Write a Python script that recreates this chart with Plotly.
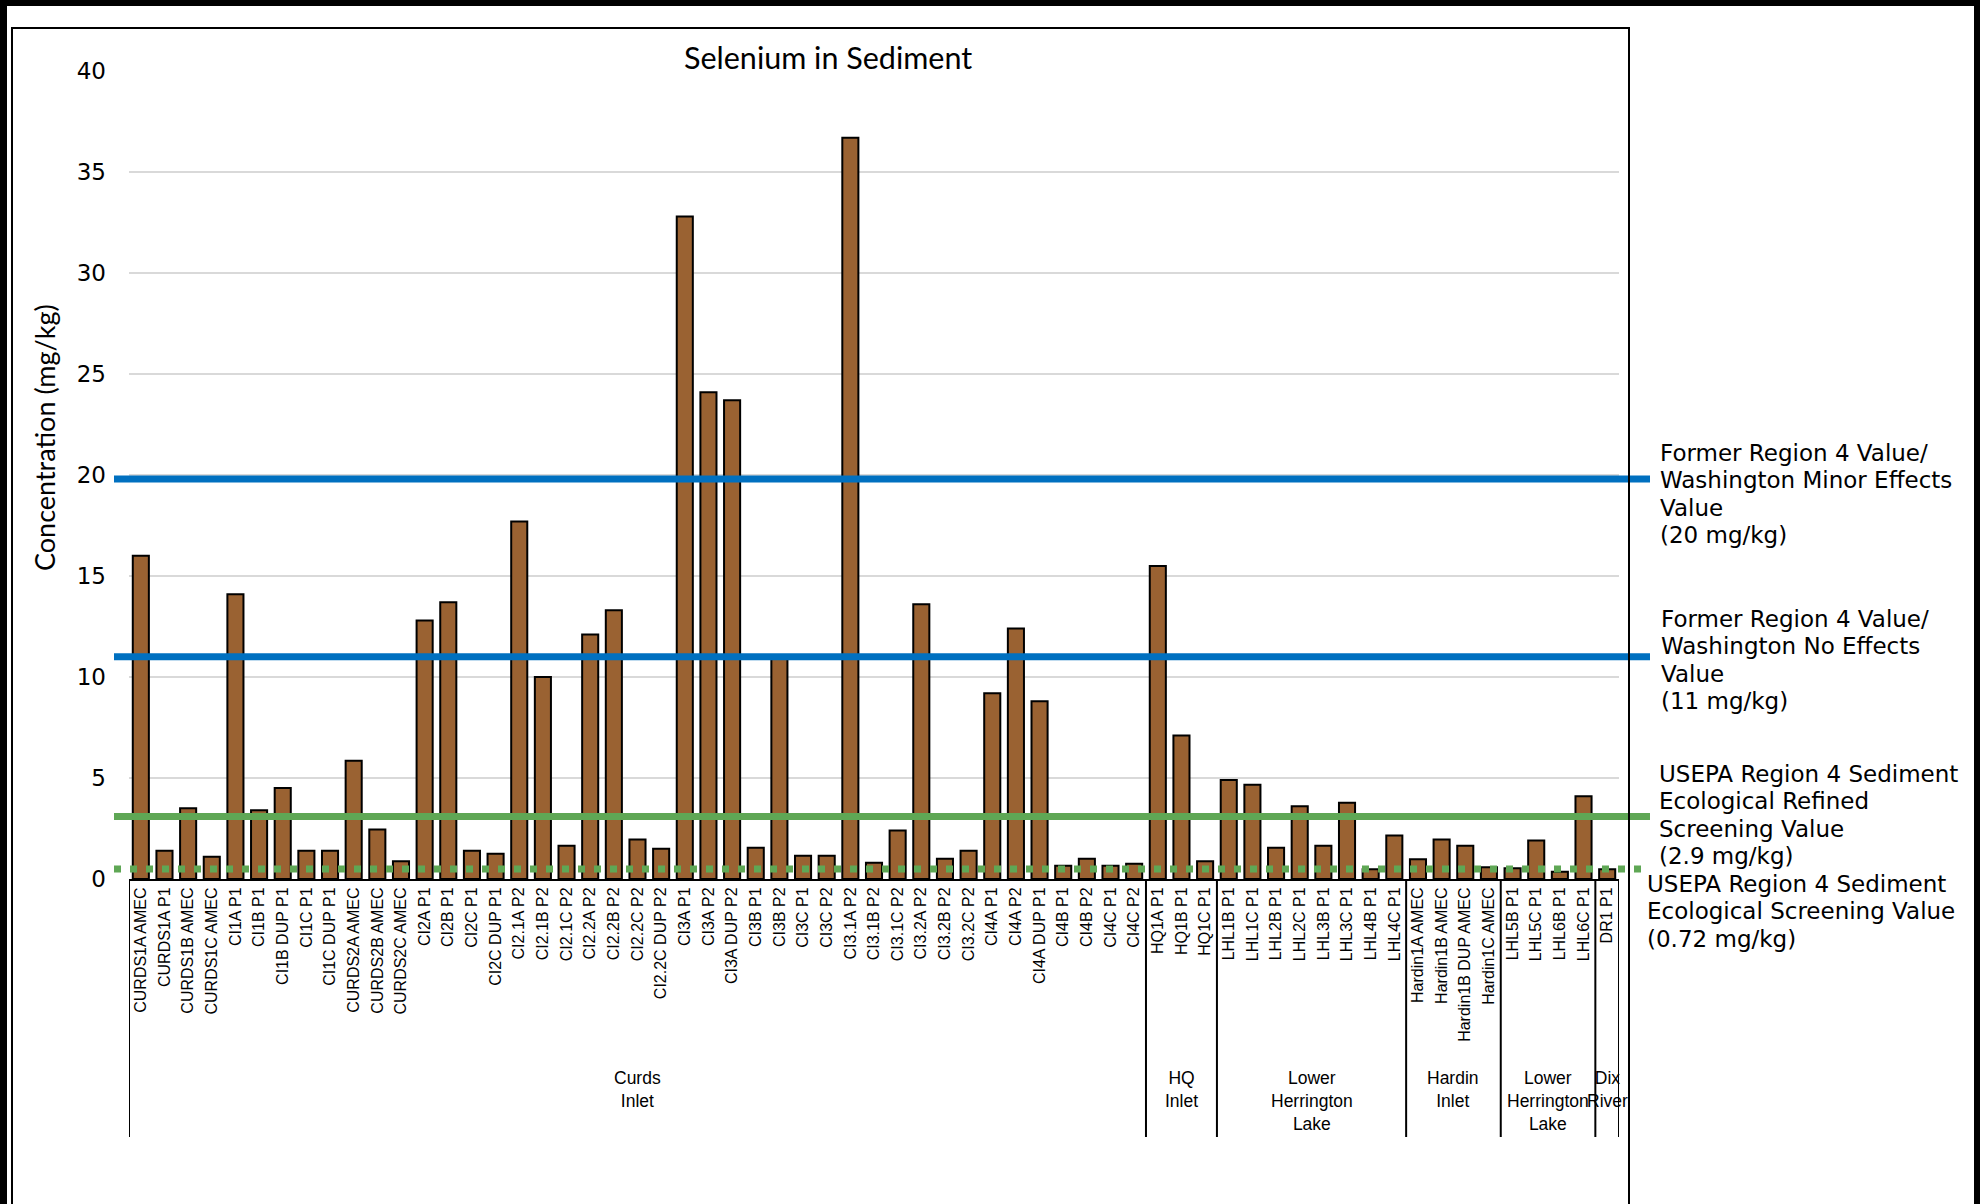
import plotly.graph_objects as go

# ---------------- data ----------------
samples = [
    "CURDS1A AMEC", "CURDS1A P1", "CURDS1B AMEC", "CURDS1C AMEC", "CI1A P1", "CI1B P1",
    "CI1B DUP P1", "CI1C P1", "CI1C DUP P1", "CURDS2A AMEC", "CURDS2B AMEC", "CURDS2C AMEC",
    "CI2A P1", "CI2B P1", "CI2C P1", "CI2C DUP P1", "CI2.1A P2", "CI2.1B P2", "CI2.1C P2",
    "CI2.2A P2", "CI2.2B P2", "CI2.2C P2", "CI2.2C DUP P2", "CI3A P1", "CI3A P2", "CI3A DUP P2",
    "CI3B P1", "CI3B P2", "CI3C P1", "CI3C P2", "CI3.1A P2", "CI3.1B P2", "CI3.1C P2",
    "CI3.2A P2", "CI3.2B P2", "CI3.2C P2", "CI4A P1", "CI4A P2", "CI4A DUP P1", "CI4B P1",
    "CI4B P2", "CI4C P1", "CI4C P2",
    "HQ1A P1", "HQ1B P1", "HQ1C P1",
    "LHL1B P1", "LHL1C P1", "LHL2B P1", "LHL2C P1", "LHL3B P1", "LHL3C P1", "LHL4B P1", "LHL4C P1",
    "Hardin1A AMEC", "Hardin1B AMEC", "Hardin1B DUP AMEC", "Hardin1C AMEC",
    "LHL5B P1", "LHL5C P1", "LHL6B P1", "LHL6C P1",
    "DR1 P1",
]
selenium = [
    16.0, 1.4, 3.5, 1.1, 14.1, 3.4,
    4.5, 1.4, 1.4, 5.85, 2.45, 0.88,
    12.8, 13.7, 1.4, 1.25, 17.7, 10.0, 1.65,
    12.1, 13.3, 1.95, 1.5, 32.8, 24.1, 23.7,
    1.55, 11.0, 1.15, 1.15, 36.7, 0.8, 2.4,
    13.6, 1.0, 1.4, 9.2, 12.4, 8.8, 0.65,
    1.0, 0.65, 0.75,
    15.5, 7.1, 0.88,
    4.9, 4.67, 1.55, 3.6, 1.65, 3.78, 0.48, 2.15,
    0.98, 1.95, 1.65, 0.58,
    0.53, 1.9, 0.36, 4.1,
    0.48,
]
group_names = ["Curds<br>Inlet", "HQ<br>Inlet", "Lower<br>Herrington<br>Lake", "Hardin<br>Inlet",
               "Lower<br>Herrington<br>Lake", "Dix<br>River"]
group_sizes = [43, 3, 8, 4, 4, 1]

threshold_labels = [
    ["Former Region 4 Value/", "Washington Minor Effects", "Value", "(20 mg/kg)"],
    ["Former Region 4 Value/", "Washington No Effects", "Value", "(11 mg/kg)"],
    ["USEPA Region 4 Sediment", "Ecological Refined", "Screening Value", "(2.9 mg/kg)"],
    ["USEPA Region 4 Sediment", "Ecological Screening Value", "(0.72 mg/kg)"],
]
threshold_drawn_at = [19.8, 11.0, 3.1, 0.5]   # as drawn in the source chart
threshold_colors = ["#0070C0", "#0070C0", "#5FA755", "#5FA755"]
threshold_dash = ["solid", "solid", "solid", "7px,9px"]
threshold_label_y_px = [453, 619, 774, 884]     # centre of first line
threshold_label_x_px = [1658, 1659, 1657, 1645]
LABEL_LINE_PX = 27.4

# ---------------- layout geometry ----------------
W, H = 1980, 1204
L, R, T, B = 129, 1619, 71, 879
PW, PH = R - L, B - T


def px_x(p):
    return (p - L) / PW


def px_y(p):
    return (B - p) / PH


idx = list(range(len(samples)))

fig = go.Figure()
fig.add_trace(go.Bar(
    x=idx, y=selenium, width=0.68,
    marker=dict(color="#9A6232", line=dict(color="#000000", width=2)),
    hoverinfo="x+y", showlegend=False,
))

shapes = []
# threshold lines (extend a little beyond the plot area, as in the source)
for v, c, d in zip(threshold_drawn_at, threshold_colors, threshold_dash):
    shapes.append(dict(type="line", xref="paper", yref="y",
                       x0=px_x(114), x1=px_x(1650) if d == "solid" else px_x(1644),
                       y0=v, y1=v, line=dict(color=c, width=7, dash=d), layer="above"))

# group separators below the category axis
bounds = [0]
for s in group_sizes:
    bounds.append(bounds[-1] + s)
for b_ in bounds:
    shapes.append(dict(type="line", xref="x", yref="paper", x0=b_ - 0.5, x1=b_ - 0.5,
                       y0=0, y1=px_y(1137), line=dict(color="#000000", width=2)))

# inner chart box and outer frame
shapes.append(dict(type="rect", xref="paper", yref="paper",
                   x0=px_x(12), x1=px_x(1629), y0=px_y(1215), y1=px_y(28),
                   line=dict(color="#000000", width=2)))
shapes.append(dict(type="rect", xref="paper", yref="paper",
                   x0=px_x(0), x1=px_x(7), y0=px_y(1210), y1=px_y(0),
                   line=dict(width=0), fillcolor="#000000"))
shapes.append(dict(type="rect", xref="paper", yref="paper",
                   x0=px_x(1974), x1=px_x(1981), y0=px_y(1210), y1=px_y(0),
                   line=dict(width=0), fillcolor="#000000"))
shapes.append(dict(type="rect", xref="paper", yref="paper",
                   x0=px_x(0), x1=px_x(1981), y0=px_y(6), y1=px_y(-2),
                   line=dict(width=0), fillcolor="#000000"))

annotations = []
# title
annotations.append(dict(text="Selenium in Sediment", xref="paper", yref="paper",
                        x=px_x(828), y=px_y(57), xanchor="center", yanchor="middle",
                        showarrow=False, font=dict(family="Lato", size=30.5, color="#000000")))
# y-axis title
annotations.append(dict(text="Concentration (mg/kg)", xref="paper", yref="paper",
                        x=px_x(45), y=px_y(438), xanchor="center", yanchor="middle",
                        textangle=-90, showarrow=False,
                        font=dict(family="Lato", size=27, color="#000000")))
# group labels
for i, (g, s) in enumerate(zip(group_names, group_sizes)):
    centre = bounds[i] + (s - 1) / 2
    annotations.append(dict(text=g, xref="x", yref="paper", x=centre, y=px_y(1066),
                            xanchor="center", yanchor="top", align="center",
                            showarrow=False,
                            font=dict(family="Liberation Sans", size=17.5, color="#000000")))
# threshold labels, one annotation per line
for lines, xp, yp in zip(threshold_labels, threshold_label_x_px, threshold_label_y_px):
    for k, line in enumerate(lines):
        annotations.append(dict(text=line, xref="paper", yref="paper", x=px_x(xp),
                                y=px_y(yp + k * LABEL_LINE_PX),
                                xanchor="left", yanchor="middle", align="left",
                                showarrow=False,
                                font=dict(family="DejaVu Sans", size=23, color="#000000")))

fig.update_layout(
    width=W, height=H, autosize=False,
    margin=dict(l=L, r=W - R, t=T, b=H - B, pad=0),
    paper_bgcolor="#FFFFFF", plot_bgcolor="#FFFFFF",
    bargap=0.3,
    shapes=shapes, annotations=annotations,
    xaxis=dict(range=[-0.5, len(samples) - 0.5], tickmode="array", tickvals=idx,
               ticktext=samples, tickangle=-90, showgrid=False, zeroline=False,
               showline=True, linecolor="#000000", linewidth=2, ticks="",
               tickfont=dict(family="Liberation Sans", size=16, color="#000000")),
    yaxis=dict(range=[0, 40], dtick=5, showgrid=True, gridcolor="#D9D9D9", gridwidth=1.5,
               zeroline=False, showline=False, ticks="", ticklabelstandoff=22,
               tickfont=dict(family="DejaVu Sans", size=23, color="#000000")),
)

fig.write_html("out.html")
